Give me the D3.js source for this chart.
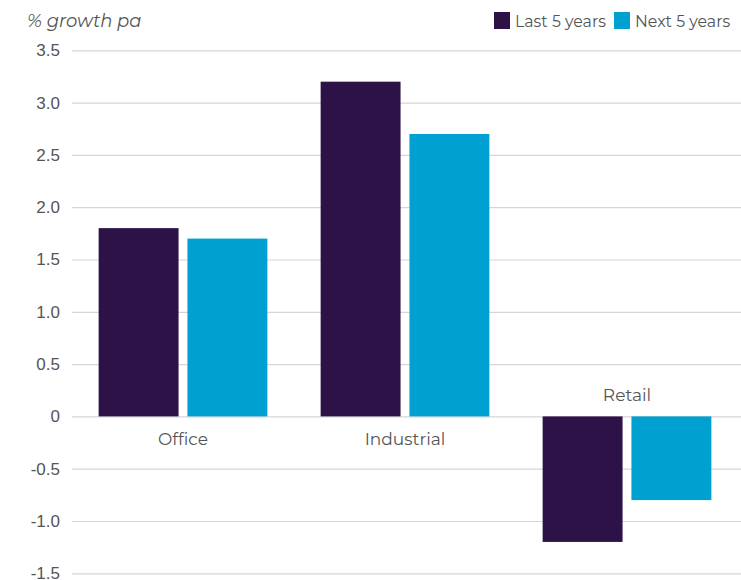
<!DOCTYPE html>
<html>
<head>
<meta charset="utf-8">
<script src="https://cdn.jsdelivr.net/npm/d3@7"></script>
<style>
  html, body { margin: 0; padding: 0; background: #fff; }
  svg { display: block; font-family: "Montserrat", "Lato", "Open Sans", sans-serif; }
</style>
</head>
<body>
<svg id="chart" width="741" height="580"></svg>
<script>
// Annual growth by sector, % per annum
const categories = ["Office", "Industrial", "Retail"];
const seriesNames = ["Last 5 years", "Next 5 years"];
const lastFive = [1.8, 3.2, -1.2];
const nextFive = [1.7, 2.7, -0.8];
const yTicks = [3.5, 3.0, 2.5, 2.0, 1.5, 1.0, 0.5, 0, -0.5, -1.0, -1.5];
const colors = ["#2d1248", "#00a0d0"];

const svg = d3.select("#chart");
const margin = { left: 72, right: 3 };
const width = 741;

const y = d3.scaleLinear().domain([-1.5, 3.5]).range([573.3, 50.3]);
const x0 = d3.scaleBand().domain(categories).range([margin.left, width - margin.right]).paddingInner(0.24).paddingOuter(0.12);
const x1 = d3.scaleBand().domain(seriesNames).range([0, x0.bandwidth()]).paddingInner(0.1);

// plain hyphen for negatives, "0" without decimals
const fmt = d => d === 0 ? "0" : d.toFixed(1);

// gridlines and tick labels
const yAxis = d3.axisLeft(y).tickValues(yTicks).tickFormat(fmt).tickSize(-(width - margin.left)).tickPadding(12);
const ga = svg.append("g").attr("transform", `translate(${margin.left},0)`).call(yAxis);
ga.select(".domain").remove();
ga.selectAll(".tick line").attr("stroke", "#d6d6d6").attr("stroke-width", 1.2);
ga.selectAll(".tick text").attr("fill", "#555").attr("font-size", 17).attr("x", -12);

// bars
const rows = categories.map((c, i) => ({ cat: c, values: [lastFive[i], nextFive[i]] }));
const groups = svg.append("g").selectAll("g").data(rows).join("g")
  .attr("transform", d => `translate(${x0(d.cat)},0)`);
groups.selectAll("rect").data(d => d.values.map((v, j) => ({ key: seriesNames[j], v, j })))
  .join("rect")
  .attr("x", d => x1(d.key))
  .attr("width", x1.bandwidth())
  .attr("y", d => y(Math.max(0, d.v)))
  .attr("height", d => Math.abs(y(d.v) - y(0)))
  .attr("fill", d => colors[d.j]);

// category labels: below the axis for positive groups, above for negative
svg.append("g").selectAll("text").data(rows).join("text")
  .attr("x", d => x0(d.cat) + x0.bandwidth() / 2)
  .attr("y", d => d3.max(d.values) > 0 ? y(0) + 29 : y(0) - 15)
  .attr("text-anchor", "middle")
  .attr("fill", "#555")
  .attr("font-size", 17)
  .text(d => d.cat);

// axis title
svg.append("text").attr("x", 27).attr("y", 27)
  .attr("font-size", 18).attr("font-style", "italic").attr("fill", "#555")
  .text("% growth pa");

// legend
const legendX = [494, 614];
const lg = svg.append("g").selectAll("g").data(seriesNames).join("g")
  .attr("transform", (d, i) => `translate(${legendX[i]},12)`);
lg.append("rect").attr("width", 16).attr("height", 17).attr("fill", (d, i) => colors[i]);
lg.append("text").attr("x", 21).attr("y", 15).attr("font-size", 15.8).attr("fill", "#555").text(d => d);
</script>
</body>
</html>
